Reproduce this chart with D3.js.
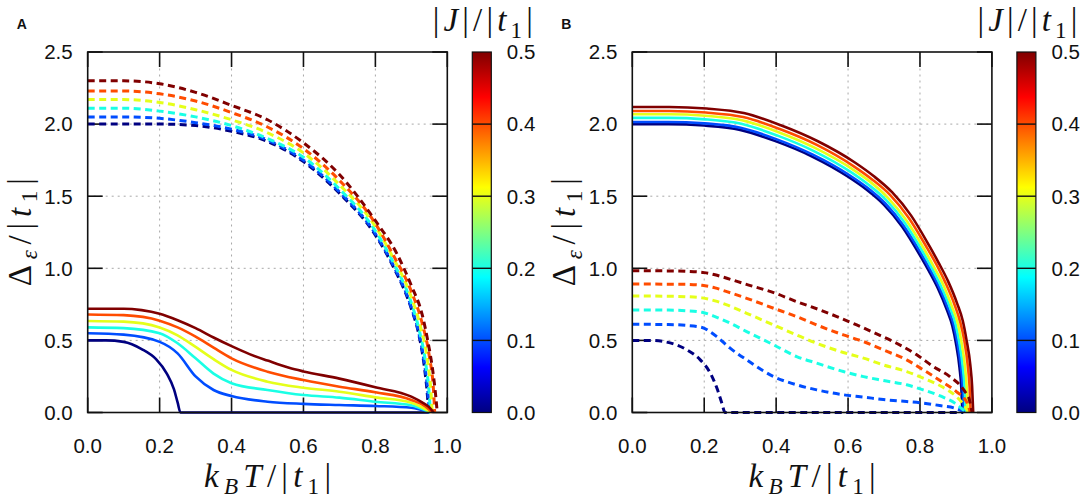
<!DOCTYPE html>
<html>
<head>
<meta charset="utf-8">
<script src="https://cdn.jsdelivr.net/npm/d3@7"></script>
<style>
  body { margin: 0; background: #fff; }
  svg { display: block; }
</style>
</head>
<body>
<div id="main"></div>
<script>
// |J|/|t1| values, one curve per value
const jValues = [0.0, 0.1, 0.2, 0.3, 0.4, 0.5]
const xTicks = [0, 0.2, 0.4, 0.6, 0.8, 1.0]
const yTicks = [0, 0.5, 1.0, 1.5, 2.0, 2.5]
const cbTicks = [0, 0.1, 0.2, 0.3, 0.4, 0.5]

// panel A, dashed (upper) curves: [kBT, gap]
const aDashed = [
  [[0,2.0],[0.1,2.0],[0.2,2.0],[0.3,1.99],[0.4,1.95],[0.5,1.88],[0.6,1.74],[0.7,1.52],[0.8,1.23],[0.85,1.01],[0.9,0.72],[0.92,0.55],[0.936,0.32],[0.945,0.11],[0.948,0]],
  [[0,2.05],[0.1,2.05],[0.2,2.04],[0.3,2.01],[0.4,1.965],[0.5,1.89],[0.6,1.75],[0.7,1.53],[0.8,1.24],[0.85,1.02],[0.9,0.73],[0.92,0.56],[0.937,0.33],[0.947,0.11],[0.95,0]],
  [[0,2.11],[0.1,2.11],[0.2,2.09],[0.3,2.05],[0.4,1.99],[0.5,1.90],[0.6,1.77],[0.7,1.55],[0.8,1.26],[0.85,1.04],[0.9,0.76],[0.92,0.59],[0.94,0.34],[0.95,0.12],[0.953,0]],
  [[0,2.17],[0.1,2.17],[0.2,2.15],[0.3,2.10],[0.4,2.03],[0.5,1.94],[0.6,1.80],[0.7,1.58],[0.8,1.29],[0.85,1.07],[0.9,0.80],[0.925,0.60],[0.945,0.36],[0.955,0.13],[0.958,0]],
  [[0,2.23],[0.1,2.23],[0.2,2.21],[0.3,2.16],[0.4,2.08],[0.5,1.98],[0.6,1.83],[0.7,1.61],[0.8,1.31],[0.85,1.09],[0.9,0.84],[0.93,0.62],[0.95,0.39],[0.962,0.14],[0.965,0]],
  [[0,2.30],[0.1,2.30],[0.2,2.28],[0.3,2.22],[0.4,2.13],[0.5,2.03],[0.6,1.87],[0.7,1.65],[0.8,1.33],[0.86,1.10],[0.9,0.88],[0.93,0.68],[0.947,0.48],[0.959,0.30],[0.968,0.11],[0.972,0]]
]

// panel A, solid (lower) curves
const aSolid = [
  [[0,0.5],[0.05,0.5],[0.1,0.49],[0.15,0.44],[0.19,0.37],[0.22,0.27],[0.24,0.16],[0.25,0.07],[0.258,0],[0.6,0],[0.95,0]],
  [[0,0.55],[0.1,0.54],[0.2,0.49],[0.25,0.41],[0.3,0.25],[0.35,0.156],[0.4,0.114],[0.5,0.075],[0.6,0.06],[0.7,0.052],[0.8,0.045],[0.9,0.033],[0.95,0]],
  [[0,0.59],[0.1,0.585],[0.2,0.55],[0.25,0.48],[0.3,0.376],[0.35,0.27],[0.4,0.203],[0.5,0.156],[0.6,0.121],[0.7,0.103],[0.8,0.075],[0.9,0.05],[0.952,0]],
  [[0,0.635],[0.1,0.63],[0.2,0.59],[0.25,0.535],[0.3,0.455],[0.35,0.37],[0.4,0.295],[0.5,0.214],[0.6,0.172],[0.7,0.144],[0.8,0.105],[0.9,0.068],[0.955,0]],
  [[0,0.68],[0.1,0.675],[0.2,0.637],[0.25,0.59],[0.3,0.526],[0.35,0.45],[0.4,0.376],[0.5,0.283],[0.6,0.225],[0.7,0.179],[0.8,0.14],[0.9,0.087],[0.94,0.04],[0.958,0]],
  [[0,0.72],[0.1,0.72],[0.15,0.71],[0.2,0.685],[0.25,0.64],[0.3,0.585],[0.35,0.52],[0.4,0.46],[0.45,0.405],[0.5,0.36],[0.56,0.31],[0.6,0.285],[0.7,0.235],[0.8,0.175],[0.9,0.11],[0.93,0.07],[0.95,0.035],[0.962,0]]
]

// panel B, solid (upper) curves
const bSolid = [
  [[0,2.0],[0.1,2.0],[0.2,1.99],[0.3,1.96],[0.4,1.88],[0.5,1.775],[0.6,1.635],[0.65,1.548],[0.7,1.44],[0.75,1.29],[0.8,1.09],[0.825,0.98],[0.85,0.86],[0.875,0.71],[0.89,0.60],[0.9,0.48],[0.91,0.31],[0.915,0.17],[0.918,0]],
  [[0,2.015],[0.1,2.015],[0.201,2.005],[0.301,1.975],[0.402,1.894],[0.502,1.788],[0.603,1.647],[0.653,1.56],[0.703,1.451],[0.753,1.30],[0.804,1.098],[0.829,0.987],[0.854,0.866],[0.879,0.715],[0.894,0.605],[0.904,0.484],[0.914,0.312],[0.919,0.171],[0.922,0]],
  [[0,2.043],[0.101,2.043],[0.202,2.033],[0.303,2.002],[0.404,1.92],[0.505,1.813],[0.606,1.67],[0.656,1.581],[0.707,1.471],[0.757,1.318],[0.808,1.113],[0.833,1.001],[0.858,0.878],[0.884,0.725],[0.899,0.613],[0.909,0.49],[0.919,0.317],[0.924,0.174],[0.927,0]],
  [[0,2.068],[0.102,2.068],[0.203,2.058],[0.305,2.027],[0.407,1.944],[0.508,1.835],[0.61,1.691],[0.661,1.601],[0.711,1.489],[0.762,1.334],[0.813,1.127],[0.838,1.013],[0.864,0.889],[0.889,0.734],[0.905,0.62],[0.915,0.496],[0.925,0.321],[0.93,0.176],[0.933,0]],
  [[0,2.091],[0.103,2.091],[0.205,2.08],[0.308,2.049],[0.41,1.966],[0.513,1.856],[0.615,1.709],[0.666,1.618],[0.718,1.506],[0.769,1.349],[0.82,1.14],[0.846,1.025],[0.871,0.899],[0.897,0.742],[0.912,0.627],[0.923,0.502],[0.933,0.324],[0.938,0.178],[0.941,0]],
  [[0,2.119],[0.103,2.119],[0.207,2.108],[0.31,2.077],[0.413,1.992],[0.516,1.881],[0.62,1.732],[0.671,1.64],[0.723,1.526],[0.775,1.367],[0.826,1.155],[0.852,1.038],[0.878,0.911],[0.904,0.752],[0.919,0.636],[0.929,0.509],[0.94,0.328],[0.945,0.18],[0.948,0]]
]

// panel B, dashed (lower) curves
const bDashed = [
  [[0,0.5],[0.05,0.5],[0.087,0.492],[0.152,0.434],[0.189,0.365],[0.217,0.273],[0.237,0.157],[0.249,0.065],[0.258,0],[0.6,0],[0.92,0]],
  [[0,0.612],[0.1,0.61],[0.15,0.604],[0.194,0.59],[0.215,0.562],[0.235,0.526],[0.272,0.446],[0.318,0.365],[0.393,0.249],[0.457,0.192],[0.513,0.157],[0.587,0.123],[0.643,0.107],[0.698,0.09],[0.763,0.076],[0.809,0.065],[0.86,0.046],[0.897,0.03],[0.92,0.007],[0.925,0]],
  [[0,0.711],[0.1,0.71],[0.15,0.706],[0.194,0.695],[0.23,0.665],[0.263,0.63],[0.318,0.561],[0.393,0.469],[0.457,0.388],[0.513,0.342],[0.587,0.284],[0.643,0.249],[0.698,0.222],[0.763,0.192],[0.809,0.157],[0.86,0.111],[0.897,0.065],[0.92,0.019],[0.93,0]],
  [[0,0.808],[0.1,0.806],[0.15,0.803],[0.194,0.795],[0.23,0.774],[0.263,0.746],[0.318,0.688],[0.393,0.607],[0.457,0.538],[0.513,0.48],[0.587,0.416],[0.643,0.377],[0.698,0.33],[0.763,0.284],[0.809,0.238],[0.86,0.18],[0.901,0.111],[0.925,0.042],[0.935,0]],
  [[0,0.891],[0.1,0.89],[0.15,0.889],[0.194,0.882],[0.23,0.864],[0.263,0.838],[0.318,0.792],[0.393,0.723],[0.457,0.665],[0.513,0.607],[0.587,0.538],[0.643,0.492],[0.698,0.434],[0.763,0.365],[0.809,0.296],[0.86,0.215],[0.901,0.145],[0.929,0.076],[0.94,0]],
  [[0,0.983],[0.1,0.982],[0.15,0.979],[0.2,0.97],[0.23,0.955],[0.263,0.931],[0.314,0.891],[0.393,0.831],[0.457,0.769],[0.522,0.711],[0.569,0.665],[0.624,0.607],[0.675,0.55],[0.735,0.48],[0.791,0.40],[0.837,0.319],[0.883,0.249],[0.925,0.145],[0.9375,0.088],[0.945,0]]
]

// MATLAB-style jet colormap
const jetR = d3.scaleLinear().domain([0, 0.375, 0.625, 0.875, 1]).range([0, 0, 1, 1, 0.5]).clamp(true)
const jetG = d3.scaleLinear().domain([0, 0.125, 0.375, 0.625, 0.875, 1]).range([0, 0, 1, 1, 0, 0]).clamp(true)
const jetB = d3.scaleLinear().domain([0, 0.125, 0.375, 0.625, 1]).range([0.5, 1, 1, 0, 0]).clamp(true)
function jet(t) {
  return d3.rgb(jetR(t) * 255, jetG(t) * 255, jetB(t) * 255).formatHex()
}
const jColor = d3.scaleLinear().domain([0, 0.5]).range([0, 1])

const W = 1084, H = 498
const PLOT = { top: 52, bottom: 412.5, size: 359.6 }
const SANS = 'Liberation Sans, Arial, sans-serif'
const SERIF = 'Liberation Serif, Times New Roman, serif'

const svg = d3.select('#main').append('svg').attr('width', W).attr('height', H)

const defs = svg.append('defs')
const grad = defs.append('linearGradient').attr('id', 'jetGrad')
  .attr('x1', 0).attr('y1', 1).attr('x2', 0).attr('y2', 0)
d3.range(0, 1.0001, 0.025).forEach(t => {
  grad.append('stop').attr('offset', t).attr('stop-color', jet(t))
})

// math-ish label: parts = [text, italic, sub]
function mathText(sel, parts, size) {
  let sub = false
  const drop = size * 0.2
  parts.forEach(p => {
    const ts = sel.append('tspan').text(p[0])
    if (p[1]) ts.attr('font-style', 'italic')
    if (p[2]) {
      ts.attr('font-size', size * 0.7)
      if (!sub) { ts.attr('dy', drop); sub = true }
    } else if (sub) { ts.attr('dy', -drop); sub = false }
  })
}

function panel(left, letter, dashedSet, solidSet, drawOrder) {
  const g = svg.append('g')
  const x = d3.scaleLinear().domain([0, 1]).range([left, left + PLOT.size])
  const y = d3.scaleLinear().domain([0, 2.5]).range([PLOT.bottom, PLOT.top])

  // grid
  g.append('g').selectAll('line').data(xTicks.slice(1, -1)).join('line')
    .attr('x1', d => x(d)).attr('x2', d => x(d)).attr('y1', y(0)).attr('y2', y(2.5))
    .attr('stroke', '#a8a8a8').attr('stroke-width', 1).attr('stroke-dasharray', '2,4')
  g.append('g').selectAll('line').data(yTicks.slice(1, -1)).join('line')
    .attr('x1', x(0)).attr('x2', x(1)).attr('y1', d => y(d)).attr('y2', d => y(d))
    .attr('stroke', '#a8a8a8').attr('stroke-width', 1).attr('stroke-dasharray', '2,4')

  // inward ticks on all four sides
  const tk = 15
  const ticks = g.append('g').attr('stroke', '#111').attr('stroke-width', 1.6)
  xTicks.forEach(d => {
    ticks.append('line').attr('x1', x(d)).attr('x2', x(d)).attr('y1', y(0)).attr('y2', y(0) - tk)
    ticks.append('line').attr('x1', x(d)).attr('x2', x(d)).attr('y1', y(2.5)).attr('y2', y(2.5) + tk)
  })
  yTicks.forEach(d => {
    ticks.append('line').attr('x1', x(0)).attr('x2', x(0) + tk).attr('y1', y(d)).attr('y2', y(d))
    ticks.append('line').attr('x1', x(1)).attr('x2', x(1) - tk).attr('y1', y(d)).attr('y2', y(d))
  })

  const line = d3.line().x(d => x(d[0])).y(d => y(d[1])).curve(d3.curveMonotoneX)
  const curves = g.append('g').attr('fill', 'none')
  const drawSet = (set, dashed) => set.forEach((pts, i) => {
    curves.append('path').datum(pts).attr('d', line)
      .attr('stroke', jet(jColor(jValues[i])))
      .attr('stroke-width', dashed ? 3 : 2.6)
      .attr('stroke-dasharray', dashed ? '7,4.5' : null)
      .attr('stroke-linejoin', 'round')
  })
  if (drawOrder === 'dashedFirst') { drawSet(dashedSet, true); drawSet(solidSet, false) }
  else { drawSet(solidSet, false); drawSet(dashedSet, true) }

  // frame
  g.append('rect').attr('x', x(0)).attr('y', y(2.5)).attr('width', x(1) - x(0)).attr('height', y(0) - y(2.5))
    .attr('fill', 'none').attr('stroke', '#111').attr('stroke-width', 1.6)

  // tick labels
  g.append('g').selectAll('text').data(xTicks).join('text')
    .attr('x', d => x(d)).attr('y', 453).attr('text-anchor', 'middle')
    .attr('font-family', SANS).attr('font-size', 20.5).attr('fill', '#111')
    .text(d => d.toFixed(1))
  g.append('g').selectAll('text').data(yTicks).join('text')
    .attr('x', x(0) - 15).attr('y', d => y(d) + 7.3).attr('text-anchor', 'end')
    .attr('font-family', SANS).attr('font-size', 20.5).attr('fill', '#111')
    .text(d => d.toFixed(1))

  // axis labels
  const xl = g.append('text').attr('x', (x(0) + x(1)) / 2).attr('y', 487)
    .attr('text-anchor', 'middle').attr('font-family', SERIF).attr('font-size', 33)
    .attr('textLength', 127).attr('lengthAdjust', 'spacing').attr('fill', '#111')
  mathText(xl, [['k', 1, 0], ['B', 1, 1], ['T', 1, 0], ['/|', 0, 0], ['t', 1, 0], ['1', 0, 1], ['|', 0, 0]], 33)

  const yl = g.append('text').attr('transform', `translate(${left - 57},${(y(0) + y(2.5)) / 2}) rotate(-90)`)
    .attr('text-anchor', 'middle').attr('font-family', SERIF).attr('font-size', 33)
    .attr('textLength', 108).attr('lengthAdjust', 'spacing').attr('fill', '#111')
  mathText(yl, [['\u0394', 0, 0], ['\u03b5', 1, 1], ['/|', 0, 0], ['t', 1, 0], ['1', 0, 1], ['|', 0, 0]], 33)

  // colorbar
  const cbx = x(1) + 25, cbw = 19
  const cy = d3.scaleLinear().domain([0, 0.5]).range([PLOT.bottom, PLOT.top])
  g.append('rect').attr('x', cbx).attr('y', cy(0.5)).attr('width', cbw).attr('height', cy(0) - cy(0.5))
    .attr('fill', 'url(#jetGrad)').attr('stroke', '#111').attr('stroke-width', 1.2)
  g.append('g').selectAll('line').data(cbTicks.slice(1, -1)).join('line')
    .attr('x1', cbx).attr('x2', cbx + cbw).attr('y1', d => cy(d)).attr('y2', d => cy(d))
    .attr('stroke', '#111').attr('stroke-width', 1.4)
  g.append('g').selectAll('text').data(cbTicks).join('text')
    .attr('x', cbx + cbw + 15.5).attr('y', d => cy(d) + 7.3)
    .attr('font-family', SANS).attr('font-size', 20.5).attr('fill', '#111')
    .text(d => d.toFixed(1))
  const ct = g.append('text').attr('x', cbx + cbw / 2 + 1).attr('y', 31)
    .attr('text-anchor', 'middle').attr('font-family', SERIF).attr('font-size', 33)
    .attr('textLength', 100).attr('lengthAdjust', 'spacing').attr('fill', '#111')
  mathText(ct, [['|', 0, 0], ['J', 1, 0], ['|/|', 0, 0], ['t', 1, 0], ['1', 0, 1], ['|', 0, 0]], 33)

  // panel letter
  g.append('text').attr('x', left - 71).attr('y', 29).attr('font-family', SANS)
    .attr('font-weight', 'bold').attr('font-size', 14).attr('fill', '#111').text(letter)
}

panel(87.7, 'A', aDashed, aSolid, 'dashedFirst')
panel(632.3, 'B', bDashed, bSolid, 'solidFirst')
</script>
</body>
</html>
